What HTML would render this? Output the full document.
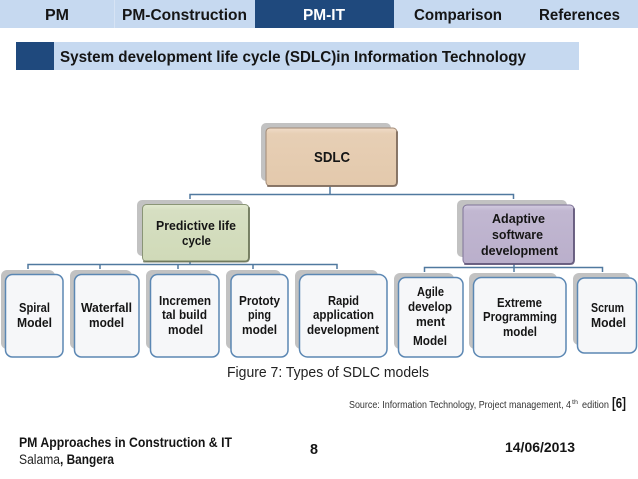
<!DOCTYPE html>
<html>
<head>
<meta charset="utf-8">
<style>
html,body{margin:0;padding:0;background:#fff;width:638px;height:479px;overflow:hidden}
svg{display:block}
text{font-family:"Liberation Sans",sans-serif;fill:#151515}
.b{font-weight:bold}
.s{fill:#c2c2c2}
.w{fill:#f6f7f9;stroke:#5b87b3;stroke-width:1.5}
.c{fill:none;stroke:#50799f;stroke-width:1.5}
.e{fill:none;stroke-width:2;stroke-linecap:round;opacity:.85}
</style>
</head>
<body>
<svg width="638" height="479" viewBox="0 0 638 479" xmlns="http://www.w3.org/2000/svg">
<defs>
<linearGradient id="gs" x1="0" y1="0" x2="0" y2="1"><stop offset="0" stop-color="#f0dcc8"/><stop offset="0.1" stop-color="#e7cfb5"/><stop offset="1" stop-color="#e3c9ac"/></linearGradient>
<linearGradient id="gp" x1="0" y1="0" x2="0" y2="1"><stop offset="0" stop-color="#e2e9d0"/><stop offset="0.1" stop-color="#d6dfc2"/><stop offset="1" stop-color="#d0dab8"/></linearGradient>
<linearGradient id="ga" x1="0" y1="0" x2="0" y2="1"><stop offset="0" stop-color="#d2cbdf"/><stop offset="0.1" stop-color="#c1b7d1"/><stop offset="1" stop-color="#baafcb"/></linearGradient>
</defs>

<!-- Nav -->
<rect x="0" y="0" width="638" height="28" fill="#c6d9f0"/>
<rect x="114" y="0" width="1" height="28" fill="#d6e3f4"/>
<rect x="255" y="0" width="139" height="28" fill="#1f497d"/>
<text class="b" x="45" y="20" font-size="16" textLength="24" lengthAdjust="spacingAndGlyphs">PM</text>
<text class="b" x="122" y="20" font-size="16" textLength="125" lengthAdjust="spacingAndGlyphs">PM-Construction</text>
<text class="b" x="303" y="20" font-size="16" textLength="42" lengthAdjust="spacingAndGlyphs" style="fill:#fff">PM-IT</text>
<text class="b" x="414" y="20" font-size="16" textLength="88" lengthAdjust="spacingAndGlyphs">Comparison</text>
<text class="b" x="539" y="20" font-size="16" textLength="81" lengthAdjust="spacingAndGlyphs">References</text>

<!-- Title -->
<rect x="16" y="42" width="38" height="28" fill="#1f497d"/>
<rect x="54" y="42" width="525" height="28" fill="#c6d9f0"/>
<text class="b" x="60" y="62" font-size="16" textLength="466" lengthAdjust="spacingAndGlyphs">System development life cycle (SDLC)in Information Technology</text>

<!-- Connectors -->
<path class="c" d="M330 186V194.500M190 199V194.500H513.500V199"/>
<path class="c" d="M28 269V264.500H337V269M100 264.500V269M178 264.500V269M253 264.500V269M190 262V264.500"/>
<path class="c" d="M424.500 272V267.500H602.500V272M514 264V272"/>

<!-- SDLC -->
<rect class="s" x="261" y="123" width="130" height="58" rx="5"/>
<rect x="266" y="128" width="131" height="58" rx="4" fill="url(#gs)" stroke="#a18a76" stroke-width="1"/>
<path class="e" d="M268 186H393Q397 186 397 182V132" stroke="#7d6a5c"/>
<text class="b" x="314" y="162" font-size="15" textLength="36" lengthAdjust="spacingAndGlyphs">SDLC</text>

<!-- Predictive -->
<rect class="s" x="137" y="200" width="106" height="56" rx="5"/>
<rect x="142.500" y="204.500" width="106.500" height="57" rx="4" fill="url(#gp)" stroke="#8a9576" stroke-width="1"/>
<path class="e" d="M144 261.500H245Q249 261.500 249 257.500V208" stroke="#6c7659"/>
<text class="b" x="156" y="230" font-size="12.500" textLength="80" lengthAdjust="spacingAndGlyphs">Predictive life</text>
<text class="b" x="182" y="245" font-size="12.500" textLength="29" lengthAdjust="spacingAndGlyphs">cycle</text>

<!-- Adaptive -->
<rect class="s" x="457" y="200" width="110" height="57" rx="5"/>
<rect x="463" y="205" width="111" height="59" rx="4" fill="url(#ga)" stroke="#7f7498" stroke-width="1"/>
<path class="e" d="M465 264H570Q574 264 574 260V209" stroke="#5f5578"/>
<text class="b" x="492" y="223" font-size="13" textLength="53" lengthAdjust="spacingAndGlyphs">Adaptive</text>
<text class="b" x="492" y="239" font-size="13" textLength="51" lengthAdjust="spacingAndGlyphs">software</text>
<text class="b" x="481" y="255" font-size="13" textLength="77" lengthAdjust="spacingAndGlyphs">development</text>

<!-- Shadows -->
<rect class="s" x="1" y="270" width="54" height="79" rx="6"/>
<rect class="s" x="70" y="270" width="62" height="79" rx="6"/>
<rect class="s" x="146" y="270" width="66" height="79" rx="6"/>
<rect class="s" x="226" y="270" width="55" height="79" rx="6"/>
<rect class="s" x="295" y="270" width="83" height="79" rx="6"/>
<rect class="s" x="394" y="273" width="60" height="76" rx="6"/>
<rect class="s" x="469" y="273" width="88" height="76" rx="6"/>
<rect class="s" x="573" y="273" width="57" height="72" rx="6"/>

<!-- White boxes -->
<rect class="w" x="5.500" y="274.500" width="57.500" height="82.500" rx="7"/>
<rect class="w" x="74.500" y="274.500" width="64.500" height="82.500" rx="7"/>
<rect class="w" x="150.500" y="274.500" width="68.500" height="82.500" rx="7"/>
<rect class="w" x="231" y="274.500" width="57" height="82.500" rx="7"/>
<rect class="w" x="299.500" y="274.500" width="87.500" height="82.500" rx="8"/>
<rect class="w" x="398.500" y="277.500" width="64.500" height="79.500" rx="7"/>
<rect class="w" x="473.500" y="277.500" width="92.500" height="79.500" rx="8"/>
<rect class="w" x="577.500" y="278" width="59" height="75" rx="7"/>

<!-- Box text -->
<g font-size="12.500">
<text class="b" x="19" y="312" textLength="31" lengthAdjust="spacingAndGlyphs">Spiral</text>
<text class="b" x="17" y="327" textLength="35" lengthAdjust="spacingAndGlyphs">Model</text>
<text class="b" x="81" y="312" textLength="51" lengthAdjust="spacingAndGlyphs">Waterfall</text>
<text class="b" x="89" y="327" textLength="35" lengthAdjust="spacingAndGlyphs">model</text>
<text class="b" x="159" y="305" textLength="52" lengthAdjust="spacingAndGlyphs">Incremen</text>
<text class="b" x="162" y="319" textLength="45" lengthAdjust="spacingAndGlyphs">tal build</text>
<text class="b" x="168" y="334" textLength="35" lengthAdjust="spacingAndGlyphs">model</text>
<text class="b" x="239" y="305" textLength="41" lengthAdjust="spacingAndGlyphs">Prototy</text>
<text class="b" x="248" y="319" textLength="23" lengthAdjust="spacingAndGlyphs">ping</text>
<text class="b" x="242" y="334" textLength="35" lengthAdjust="spacingAndGlyphs">model</text>
<text class="b" x="328" y="305" textLength="31" lengthAdjust="spacingAndGlyphs">Rapid</text>
<text class="b" x="313" y="319" textLength="61" lengthAdjust="spacingAndGlyphs">application</text>
<text class="b" x="307" y="334" textLength="72" lengthAdjust="spacingAndGlyphs">development</text>
<text class="b" x="417" y="296" textLength="27" lengthAdjust="spacingAndGlyphs">Agile</text>
<text class="b" x="408" y="311" textLength="44" lengthAdjust="spacingAndGlyphs">develop</text>
<text class="b" x="416" y="326" textLength="29" lengthAdjust="spacingAndGlyphs">ment</text>
<text class="b" x="413" y="345" textLength="34" lengthAdjust="spacingAndGlyphs">Model</text>
<text class="b" x="497" y="307" textLength="45" lengthAdjust="spacingAndGlyphs">Extreme</text>
<text class="b" x="483" y="321" textLength="74" lengthAdjust="spacingAndGlyphs">Programming</text>
<text class="b" x="503" y="336" textLength="34" lengthAdjust="spacingAndGlyphs">model</text>
<text class="b" x="591" y="312" textLength="33" lengthAdjust="spacingAndGlyphs">Scrum</text>
<text class="b" x="591" y="327" textLength="35" lengthAdjust="spacingAndGlyphs">Model</text>
</g>

<!-- Caption & source -->
<text x="227" y="377" font-size="15" textLength="202" lengthAdjust="spacingAndGlyphs" style="fill:#222">Figure 7: Types of SDLC models</text>
<text x="349" y="408" font-size="10.500" textLength="222" lengthAdjust="spacingAndGlyphs" style="fill:#333">Source: Information Technology, Project management, 4</text>
<text x="572" y="404" font-size="6" textLength="6" lengthAdjust="spacingAndGlyphs" style="fill:#333">th</text>
<text x="582" y="408" font-size="10.500" textLength="27" lengthAdjust="spacingAndGlyphs" style="fill:#333">edition</text>
<text class="b" x="612" y="408" font-size="15" textLength="14" lengthAdjust="spacingAndGlyphs">[6]</text>

<!-- Footer -->
<text class="b" x="19" y="447" font-size="13.500" textLength="213" lengthAdjust="spacingAndGlyphs">PM Approaches in Construction &amp; IT</text>
<text x="19" y="464" font-size="13.500" textLength="41" lengthAdjust="spacingAndGlyphs" style="fill:#222">Salama</text>
<text class="b" x="60" y="464" font-size="13.500" textLength="54" lengthAdjust="spacingAndGlyphs">, Bangera</text>
<text class="b" x="310" y="454" font-size="15" textLength="8" lengthAdjust="spacingAndGlyphs">8</text>
<text class="b" x="505" y="452" font-size="13.500" textLength="70" lengthAdjust="spacingAndGlyphs">14/06/2013</text>
</svg>
</body>
</html>
